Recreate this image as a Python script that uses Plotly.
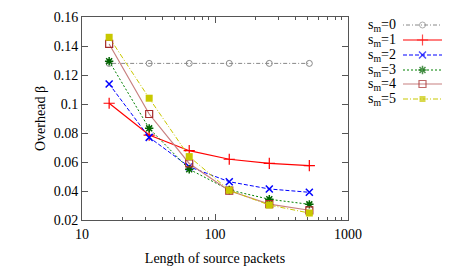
import plotly.graph_objects as go

packet_lengths = [16, 32, 64, 128, 256, 512]
s_m0 = [0.128, 0.128, 0.128, 0.128, 0.128, 0.128]
s_m1 = [0.1005, 0.0786, 0.0678, 0.0619, 0.0591, 0.0575]
s_m2 = [0.1138, 0.0770, 0.0567, 0.0464, 0.0414, 0.0391]
s_m3 = [0.1295, 0.0832, 0.0550, 0.0407, 0.0343, 0.0308]
s_m4 = [0.1414, 0.0931, 0.0590, 0.0402, 0.0310, 0.0267]
s_m5 = [0.1460, 0.1040, 0.0637, 0.0405, 0.0303, 0.0248]
series_names = ["s<sub>m</sub>=0", "s<sub>m</sub>=1", "s<sub>m</sub>=2",
                "s<sub>m</sub>=3", "s<sub>m</sub>=4", "s<sub>m</sub>=5"]
y_ticks = [0.02, 0.04, 0.06, 0.08, 0.1, 0.12, 0.14, 0.16]
y_tick_labels = ["0.02", "0.04", "0.06", "0.08", "0.1", "0.12", "0.14", "0.16"]

styles = [
    dict(line=dict(color="#888888", width=1, dash="1px,2px,4px,2px"),
         marker=dict(symbol="circle-open", size=6, color="#888888", line=dict(width=1))),
    dict(line=dict(color="#ff0000", width=1.2, dash="solid"),
         marker=dict(symbol="cross-thin-open", size=8, color="#ff0000", line=dict(width=1.2, color="#ff0000"))),
    dict(line=dict(color="#0000ff", width=1, dash="4px,2px"),
         marker=dict(symbol="x-thin-open", size=7, color="#0000ff", line=dict(width=1.5, color="#0000ff"))),
    dict(line=dict(color="#008000", width=1, dash="2px,2px"),
         marker=dict(symbol="asterisk-open", size=7, color="#006400", line=dict(width=1.5, color="#006400"))),
    dict(line=dict(color="#c88080", width=1.2, dash="solid"),
         marker=dict(symbol="square-open", size=7, color="#a52a2a", line=dict(width=1.2, color="#a52a2a"))),
    dict(line=dict(color="#c8c800", width=1, dash="5px,2px,1px,2px"),
         marker=dict(symbol="square", size=7, color="#c8c800")),
]

all_series = [s_m0, s_m1, s_m2, s_m3, s_m4, s_m5]

# page body has an 8px margin; layout numbers below are in figure pixels
L, T, W, H, R = 74, 9, 460, 268, 10
PW = W - L - R          # paper width
PLOT_W, PLOT_H = 266, 203

fig = go.Figure()
for name, ys, st in zip(series_names, all_series, styles):
    fig.add_trace(go.Scatter(x=packet_lengths, y=ys, mode="lines+markers", name=name,
                             line=st["line"], marker=st["marker"], showlegend=False,
                             xaxis="x", yaxis="y"))

# manual legend (text left, sample right); rows given as page-pixel positions
legend_rows = [25, 40, 55, 70, 84, 99]
for name, ypx, st in zip(series_names, legend_rows, styles):
    mk = dict(st["marker"])
    mk["size"] = [0, st["marker"]["size"], 0]
    fig.add_trace(go.Scatter(x=[0, 0.5, 1], y=[-ypx] * 3, mode="lines+markers",
                             line=st["line"], marker=mk,
                             showlegend=False, xaxis="x2", yaxis="y2", hoverinfo="skip"))
    fig.add_annotation(text=name, xref="paper", yref="y2", x=(389 - L) / PW, y=-ypx,
                       xanchor="right", yanchor="middle", showarrow=False,
                       borderpad=0,
                       font=dict(family="Liberation Serif", size=14, color="black"))

axis_common = dict(showline=True, linecolor="#555555", linewidth=1, mirror="ticks",
                   ticks="inside", ticklen=6, tickcolor="#555555", showgrid=False,
                   zeroline=False, automargin=False,
                   tickfont=dict(family="Liberation Serif", size=14, color="black"))

fig.update_layout(
    width=W, height=H,
    margin=dict(l=L, r=R, t=T, b=H - T - PLOT_H),
    plot_bgcolor="white", paper_bgcolor="white",
    font=dict(family="Liberation Serif", size=14, color="black"),
    xaxis=dict(type="log", range=[1, 3], domain=[0, PLOT_W / PW], tickvals=[10, 100, 1000],
               ticktext=["10", "100", "1000"], ticklabelstandoff=1,
               minor=dict(ticks="inside", ticklen=3, tickcolor="#555555",
                          tickvals=[20, 30, 40, 50, 60, 70, 80, 90, 200, 300, 400, 500, 600, 700, 800, 900]),
               title=dict(text="Length of source packets", standoff=12,
                          font=dict(family="Liberation Serif", size=14)),
               **axis_common),
    yaxis=dict(range=[0.02, 0.16], tickvals=y_ticks, ticktext=y_tick_labels,
               title=dict(text="Overhead β", standoff=4,
                          font=dict(family="Liberation Serif", size=14)),
               **axis_common),
    xaxis2=dict(domain=[(395 - L) / PW, (434 - L) / PW], range=[0, 1], visible=False,
                anchor="y2"),
    yaxis2=dict(domain=[0, 1], range=[-220, -17], visible=False, anchor="x2"),
)

fig.write_html("out.html")
